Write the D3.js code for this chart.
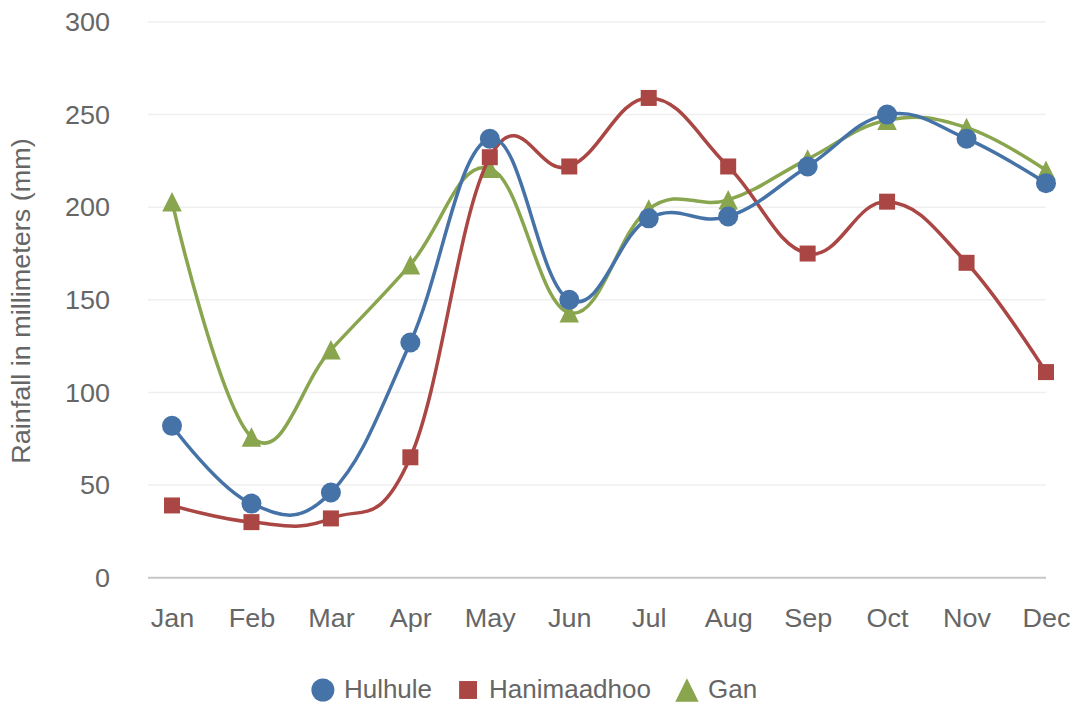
<!DOCTYPE html>
<html>
<head>
<meta charset="utf-8">
<script src="https://cdn.jsdelivr.net/npm/d3@7/dist/d3.min.js"></script>
<style>
  html, body { margin: 0; padding: 0; background: #fff; }
  svg { display: block; font-family: "Liberation Sans", Arial, Helvetica, sans-serif; }
</style>
</head>
<body>
<svg id="chart" width="1074" height="704"></svg>
<script>
// Monthly rainfall (mm)
const months = ["Jan", "Feb", "Mar", "Apr", "May", "Jun", "Jul", "Aug", "Sep", "Oct", "Nov", "Dec"];
const hulhule = [82, 40, 46, 127, 237, 150, 194, 195, 222, 250, 237, 213];
const hanimaadhoo = [39, 30, 32, 65, 227, 222, 259, 222, 175, 203, 170, 111];
const gan = [203, 76, 123, 169, 221, 143, 199, 204, 226, 247, 243, 220];
const yTicks = [0, 50, 100, 150, 200, 250, 300];
const yTitle = "Rainfall in millimeters (mm)";

const seriesList = [
  { name: "Hulhule", values: hulhule, color: "#4572A7", symbol: "circle" },
  { name: "Hanimaadhoo", values: hanimaadhoo, color: "#AA4643", symbol: "square" },
  { name: "Gan", values: gan, color: "#89A54E", symbol: "triangle" }
];

const svg = d3.select("#chart");
const plotLeft = 148, plotRight = 1046;
const textStretch = 1.08;   // slightly wide lettering
const fontSize = 25;

const x = d3.scaleLinear().domain([0, months.length - 1]).range([172, 1046]);
const y = d3.scaleLinear().domain([0, 300]).range([577.7, 22]);

// Spline: control points placed 1/2.5 of the way to each neighbour,
// then shifted so the tangent passes through the point itself.
function smoothSpline(context) {
  let pts;
  return {
    areaStart() {}, areaEnd() {},
    lineStart() { pts = []; },
    point(px, py) { pts.push([+px, +py]); },
    lineEnd() {
      const n = pts.length;
      if (!n) return;
      const sm = 1.5, den = sm + 1;
      const L = [], R = [];
      for (let i = 0; i < n; i++) {
        const [px, py] = pts[i];
        if (i > 0 && i < n - 1) {
          const [lx, ly] = pts[i - 1], [nx, ny] = pts[i + 1];
          const lcx = (sm * px + lx) / den, rcx = (sm * px + nx) / den;
          let lcy = (sm * py + ly) / den, rcy = (sm * py + ny) / den;
          const corr = ((rcy - lcy) * (rcx - px)) / (rcx - lcx) + py - rcy;
          lcy += corr; rcy += corr;
          L[i] = [lcx, lcy]; R[i] = [rcx, rcy];
        } else {
          L[i] = [px, py]; R[i] = [px, py];
        }
      }
      context.moveTo(pts[0][0], pts[0][1]);
      for (let i = 1; i < n; i++) {
        context.bezierCurveTo(R[i - 1][0], R[i - 1][1], L[i][0], L[i][1], pts[i][0], pts[i][1]);
      }
    }
  };
}

// Gridlines
svg.append("g").selectAll("line").data(yTicks.filter(d => d > 0)).join("line")
  .attr("x1", plotLeft).attr("x2", plotRight)
  .attr("y1", d => y(d)).attr("y2", d => y(d))
  .attr("stroke", "#efefef").attr("stroke-width", 1.5);

// Baseline
svg.append("line")
  .attr("x1", plotLeft).attr("x2", plotRight)
  .attr("y1", y(0)).attr("y2", y(0))
  .attr("stroke", "#c6c6c6").attr("stroke-width", 2);

// Y tick labels
const yAxis = d3.axisLeft(y).tickValues(yTicks).tickSize(0).tickPadding(0);
const gy = svg.append("g").attr("transform", "translate(110,0)").call(yAxis);
gy.select(".domain").remove();
gy.selectAll("text")
  .attr("font-family", "'Liberation Sans', Arial, sans-serif")
  .attr("font-size", fontSize).attr("fill", "#666").attr("x", 0).attr("dy", "0.35em")
  .attr("transform", `scale(${textStretch},1)`);

// X tick labels
const xAxis = d3.axisBottom(x).tickValues(d3.range(months.length))
  .tickFormat(i => months[i]).tickSize(0).tickPadding(0);
const gx = svg.append("g").attr("transform", "translate(0,627)").call(xAxis);
gx.select(".domain").remove();
gx.selectAll("text")
  .attr("font-family", "'Liberation Sans', Arial, sans-serif")
  .attr("font-size", fontSize).attr("fill", "#666").attr("dy", 0).attr("y", 0)
  .attr("transform", `scale(${textStretch},1)`);

// Y axis title
svg.append("text")
  .attr("transform", `translate(30,301) rotate(-90) scale(${textStretch},1)`)
  .attr("text-anchor", "middle")
  .attr("font-size", fontSize).attr("fill", "#666")
  .text(yTitle);

function markerPath(symbol, size) {
  if (symbol === "square") {
    const h = size / 2;
    return `M${-h},${-h}H${h}V${h}H${-h}Z`;
  }
  const w = size / 2;
  return `M0,${-w}L${w},${w}L${-w},${w}Z`;
}

function drawMarker(g, s, cx, cy, scale) {
  if (s.symbol === "circle") {
    g.append("circle").attr("cx", cx).attr("cy", cy).attr("r", 10 * scale).attr("fill", s.color);
  } else if (s.symbol === "square") {
    g.append("path").attr("d", markerPath("square", 16 * scale))
      .attr("transform", `translate(${cx},${cy})`).attr("fill", s.color);
  } else {
    g.append("path").attr("d", markerPath("triangle", 19.5 * scale))
      .attr("transform", `translate(${cx},${cy})`).attr("fill", s.color);
  }
}

const line = d3.line().x((d, i) => x(i)).y(d => y(d)).curve(smoothSpline);

// Drawn so the first series sits on top
seriesList.slice().reverse().forEach(s => {
  const g = svg.append("g");
  g.append("path").attr("d", line(s.values))
    .attr("fill", "none").attr("stroke", s.color).attr("stroke-width", 3.5)
    .attr("stroke-linejoin", "round").attr("stroke-linecap", "round");
  s.values.forEach((v, i) => drawMarker(g, s, x(i), y(v), 1));
});

// Legend
const legend = svg.append("g");
let cursor = 0;
seriesList.forEach(s => {
  const item = legend.append("g");
  drawMarker(item, s, cursor + 11, 1, s.symbol === "circle" ? 1.15 : s.symbol === "square" ? 1.12 : 1.2);
  const tx = cursor + 32;
  const t = item.append("text").attr("x", tx).attr("y", 0).attr("dy", "0.35em")
    .attr("font-size", 26).attr("fill", "#666").text(s.name);
  cursor = tx + t.node().getComputedTextLength() + 25;
});
const legendWidth = cursor - 25;
legend.attr("transform", `translate(${534.5 - legendWidth / 2},689)`);
</script>
</body>
</html>
